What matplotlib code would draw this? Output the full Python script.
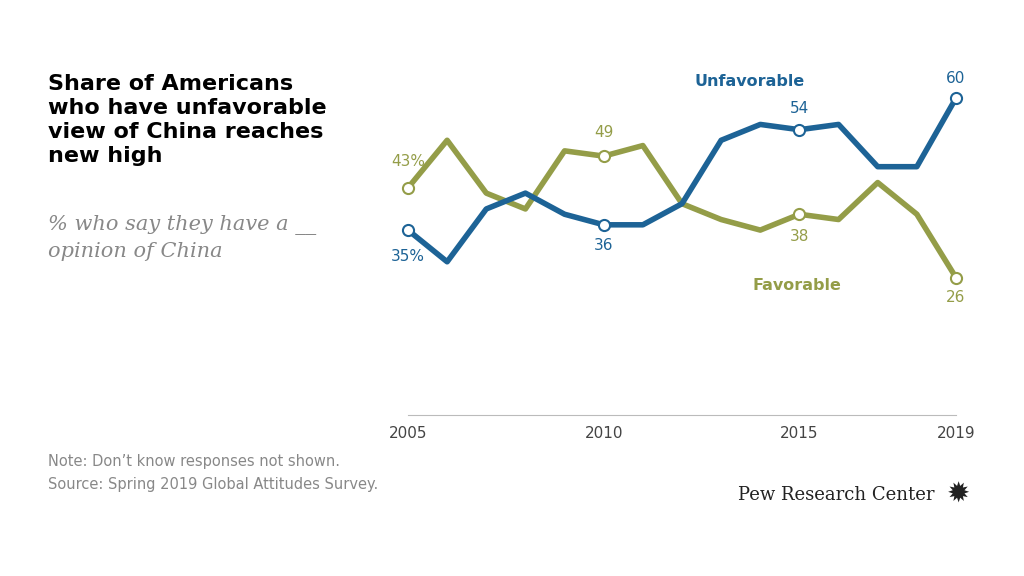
import matplotlib
matplotlib.use("Agg")
import matplotlib.pyplot as plt

years = list(range(2005, 2020))
unfavorable = [35, 29, 39, 42, 38, 36, 36, 40, 52, 55, 54, 55, 47, 47, 60]
favorable = [43, 52, 42, 39, 50, 49, 51, 40, 37, 35, 38, 37, 44, 38, 26]
xticks = [2005, 2010, 2015, 2019]
labeled_years = [2005, 2010, 2015, 2019]

BLUE = "#1d6396"
OLIVE = "#949d48"

fig = plt.figure(figsize=(10.24, 5.76), dpi=100)
ax = fig.add_axes([408/1024, 1-415/576, 548/1024, (415-71.6)/576])
ax.set_xlim(2005, 2019)
ax.set_ylim(0, 65)
ax.patch.set_alpha(0)
for s in ["top", "right", "left"]:
    ax.spines[s].set_visible(False)
ax.spines["bottom"].set_color("#bbbbbb")
ax.set_yticks([])
ax.set_xticks(xticks)
ax.set_xticklabels([str(x) for x in xticks], fontsize=11, color="#444444")
ax.tick_params(axis="x", length=0, pad=8)

for vals, col in [(favorable, OLIVE), (unfavorable, BLUE)]:
    ax.plot(years, vals, color=col, lw=4, solid_capstyle="round", solid_joinstyle="round", clip_on=False)
    for y in labeled_years:
        i = years.index(y)
        ax.plot(y, vals[i], "o", ms=8, mfc="white", mec=col, mew=1.5, clip_on=False, zorder=5)

def lab(x, y, t, col, dy):
    ax.annotate(t, (x, y), xytext=(0, dy), textcoords="offset points", ha="center",
                va="center", fontsize=11, color=col)
i = years.index
lab(2005, unfavorable[i(2005)], f"{unfavorable[i(2005)]}%", BLUE, -19)
lab(2010, unfavorable[i(2010)], f"{unfavorable[i(2010)]}", BLUE, -15)
lab(2015, unfavorable[i(2015)], f"{unfavorable[i(2015)]}", BLUE, 15)
lab(2019, unfavorable[i(2019)], f"{unfavorable[i(2019)]}", BLUE, 14)
lab(2005, favorable[i(2005)], f"{favorable[i(2005)]}%", OLIVE, 19)
lab(2010, favorable[i(2010)], f"{favorable[i(2010)]}", OLIVE, 17)
lab(2015, favorable[i(2015)], f"{favorable[i(2015)]}", OLIVE, -16)
lab(2019, favorable[i(2019)], f"{favorable[i(2019)]}", OLIVE, -14)

fig.text(750/1024, 1-82/576, "Unfavorable", color=BLUE, fontsize=11.5, fontweight="bold", ha="center", va="center")
fig.text(797/1024, 1-286/576, "Favorable", color=OLIVE, fontsize=11.5, fontweight="bold", ha="center", va="center")

fig.text(48/1024, 1-74/576, "Share of Americans\nwho have unfavorable\nview of China reaches\nnew high",
         fontsize=16, fontweight="bold", ha="left", va="top", linespacing=1.25, color="black")
fig.text(48/1024, 1-215/576, "% who say they have a __\nopinion of China", fontsize=15, style="italic",
         family="DejaVu Serif", color="#888888", ha="left", va="top", linespacing=1.45)
fig.text(48/1024, 1-473/576, "Note: Don\u2019t know responses not shown.\nSource: Spring 2019 Global Attitudes Survey.",
         fontsize=10.5, color="#888888", ha="left", va="center", linespacing=1.6)
fig.text(935/1024, 1-495/576, "Pew Research Center", family="DejaVu Serif", fontsize=13,
         ha="right", va="center", color="#222222")
fig.text(958/1024, 1-495/576, "\u2739", fontsize=20, ha="center", va="center", color="#222222")

fig.savefig("out.png", dpi=100, facecolor="white")
